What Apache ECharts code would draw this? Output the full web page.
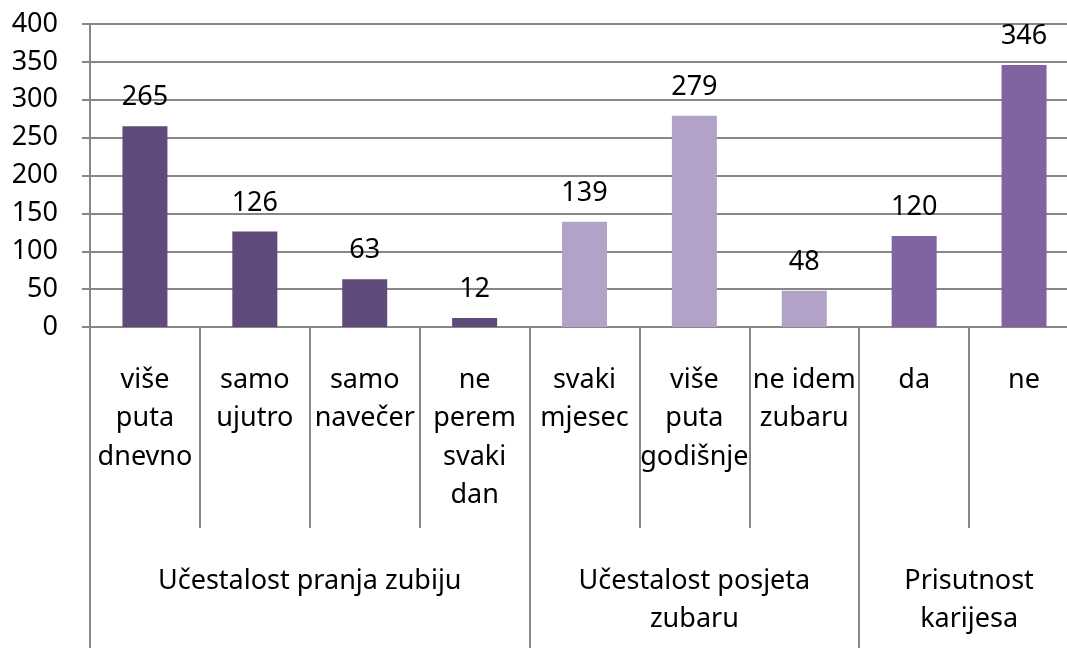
<!DOCTYPE html>
<html>
<head>
<meta charset="utf-8">
<title>Učestalost</title>
<script src="https://cdn.jsdelivr.net/npm/echarts@6/dist/echarts.min.js"></script>
<style>
  html, body { margin: 0; padding: 0; background: #fff; overflow: hidden; }
  #chart { width: 1067px; height: 648px; }
</style>
</head>
<body>
<div id="chart"></div>
<script>
// kategorije (donji red osi)
const categories = [
  'više\nputa\ndnevno', 'samo\nujutro', 'samo\nnavečer', 'ne\nperem\nsvaki\ndan',
  'svaki\nmjesec', 'više\nputa\ngodišnje', 'ne idem\nzubaru',
  'da', 'ne'
]
const values = [265, 126, 63, 12, 139, 279, 48, 120, 346]
// grupe (gornji red osi)
const groupNames = ['Učestalost pranja zubiju', 'Učestalost posjeta\nzubaru', 'Prisutnost\nkarijesa']
const groupSizes = [4, 3, 2]
const groupColors = ['#604A7B', '#B3A2C7', '#8064A2']
const yTicks = [0, 50, 100, 150, 200, 250, 300, 350, 400]

const gray = '#878787'
const font = 'Noto Sans'

// granice i sredine grupa
const groupEdges = [0]
const groupCenters = []
groupSizes.forEach((n, i) => {
  const start = groupEdges[i]
  groupEdges.push(start + n)
  groupCenters.push(start + n / 2)
})

// boja svakog stupca prema grupi
const barData = values.map((v, i) => {
  let g = 0
  while (i >= groupEdges[g + 1]) g++
  return { value: v, itemStyle: { color: groupColors[g] } }
})

const chart = echarts.init(document.getElementById('chart'), null, { renderer: 'canvas' })
chart.setOption({
  animation: false,
  textStyle: { fontFamily: font },
  // desni rub grafa je izvan slike (odrezan)
  grid: { left: 90, width: 989, top: 24, bottom: 321, containLabel: false, outerBoundsMode: 'none' },
  xAxis: [
    {
      type: 'category',
      position: 'bottom',
      data: categories,
      axisLine: { show: true, lineStyle: { color: gray, width: 2 } },
      axisTick: { show: true, interval: 0, length: 201, lineStyle: { color: gray, width: 2 } },
      axisLabel: {
        interval: 0,
        margin: 34,
        fontSize: 27,
        lineHeight: 38.5,
        color: '#000',
        fontFamily: font
      }
    },
    {
      type: 'value',
      position: 'bottom',
      min: 0,
      max: categories.length,
      axisLine: { show: false },
      splitLine: { show: false },
      axisTick: { show: true, customValues: groupEdges, length: 321, lineStyle: { color: gray, width: 2 } },
      axisLabel: {
        customValues: groupCenters,
        margin: 236,
        fontSize: 27,
        lineHeight: 37.5,
        color: '#000',
        fontFamily: font,
        formatter: (val) => groupNames[groupCenters.indexOf(val)] || ''
      }
    }
  ],
  yAxis: {
    type: 'value',
    min: yTicks[0],
    max: yTicks[yTicks.length - 1],
    interval: 50,
    axisLine: { show: true, lineStyle: { color: gray, width: 2 } },
    axisTick: { show: true, length: 8, lineStyle: { color: gray, width: 2 } },
    axisLabel: { margin: 32, fontSize: 27, color: '#000', fontFamily: font },
    splitLine: { show: true, lineStyle: { color: gray, width: 2 } }
  },
  series: [
    {
      type: 'bar',
      xAxisIndex: 0,
      data: barData,
      barWidth: 45,
      label: {
        show: true,
        position: 'top',
        distance: 15,
        fontSize: 27,
        color: '#000',
        fontFamily: font
      }
    }
  ]
})
</script>
</body>
</html>
